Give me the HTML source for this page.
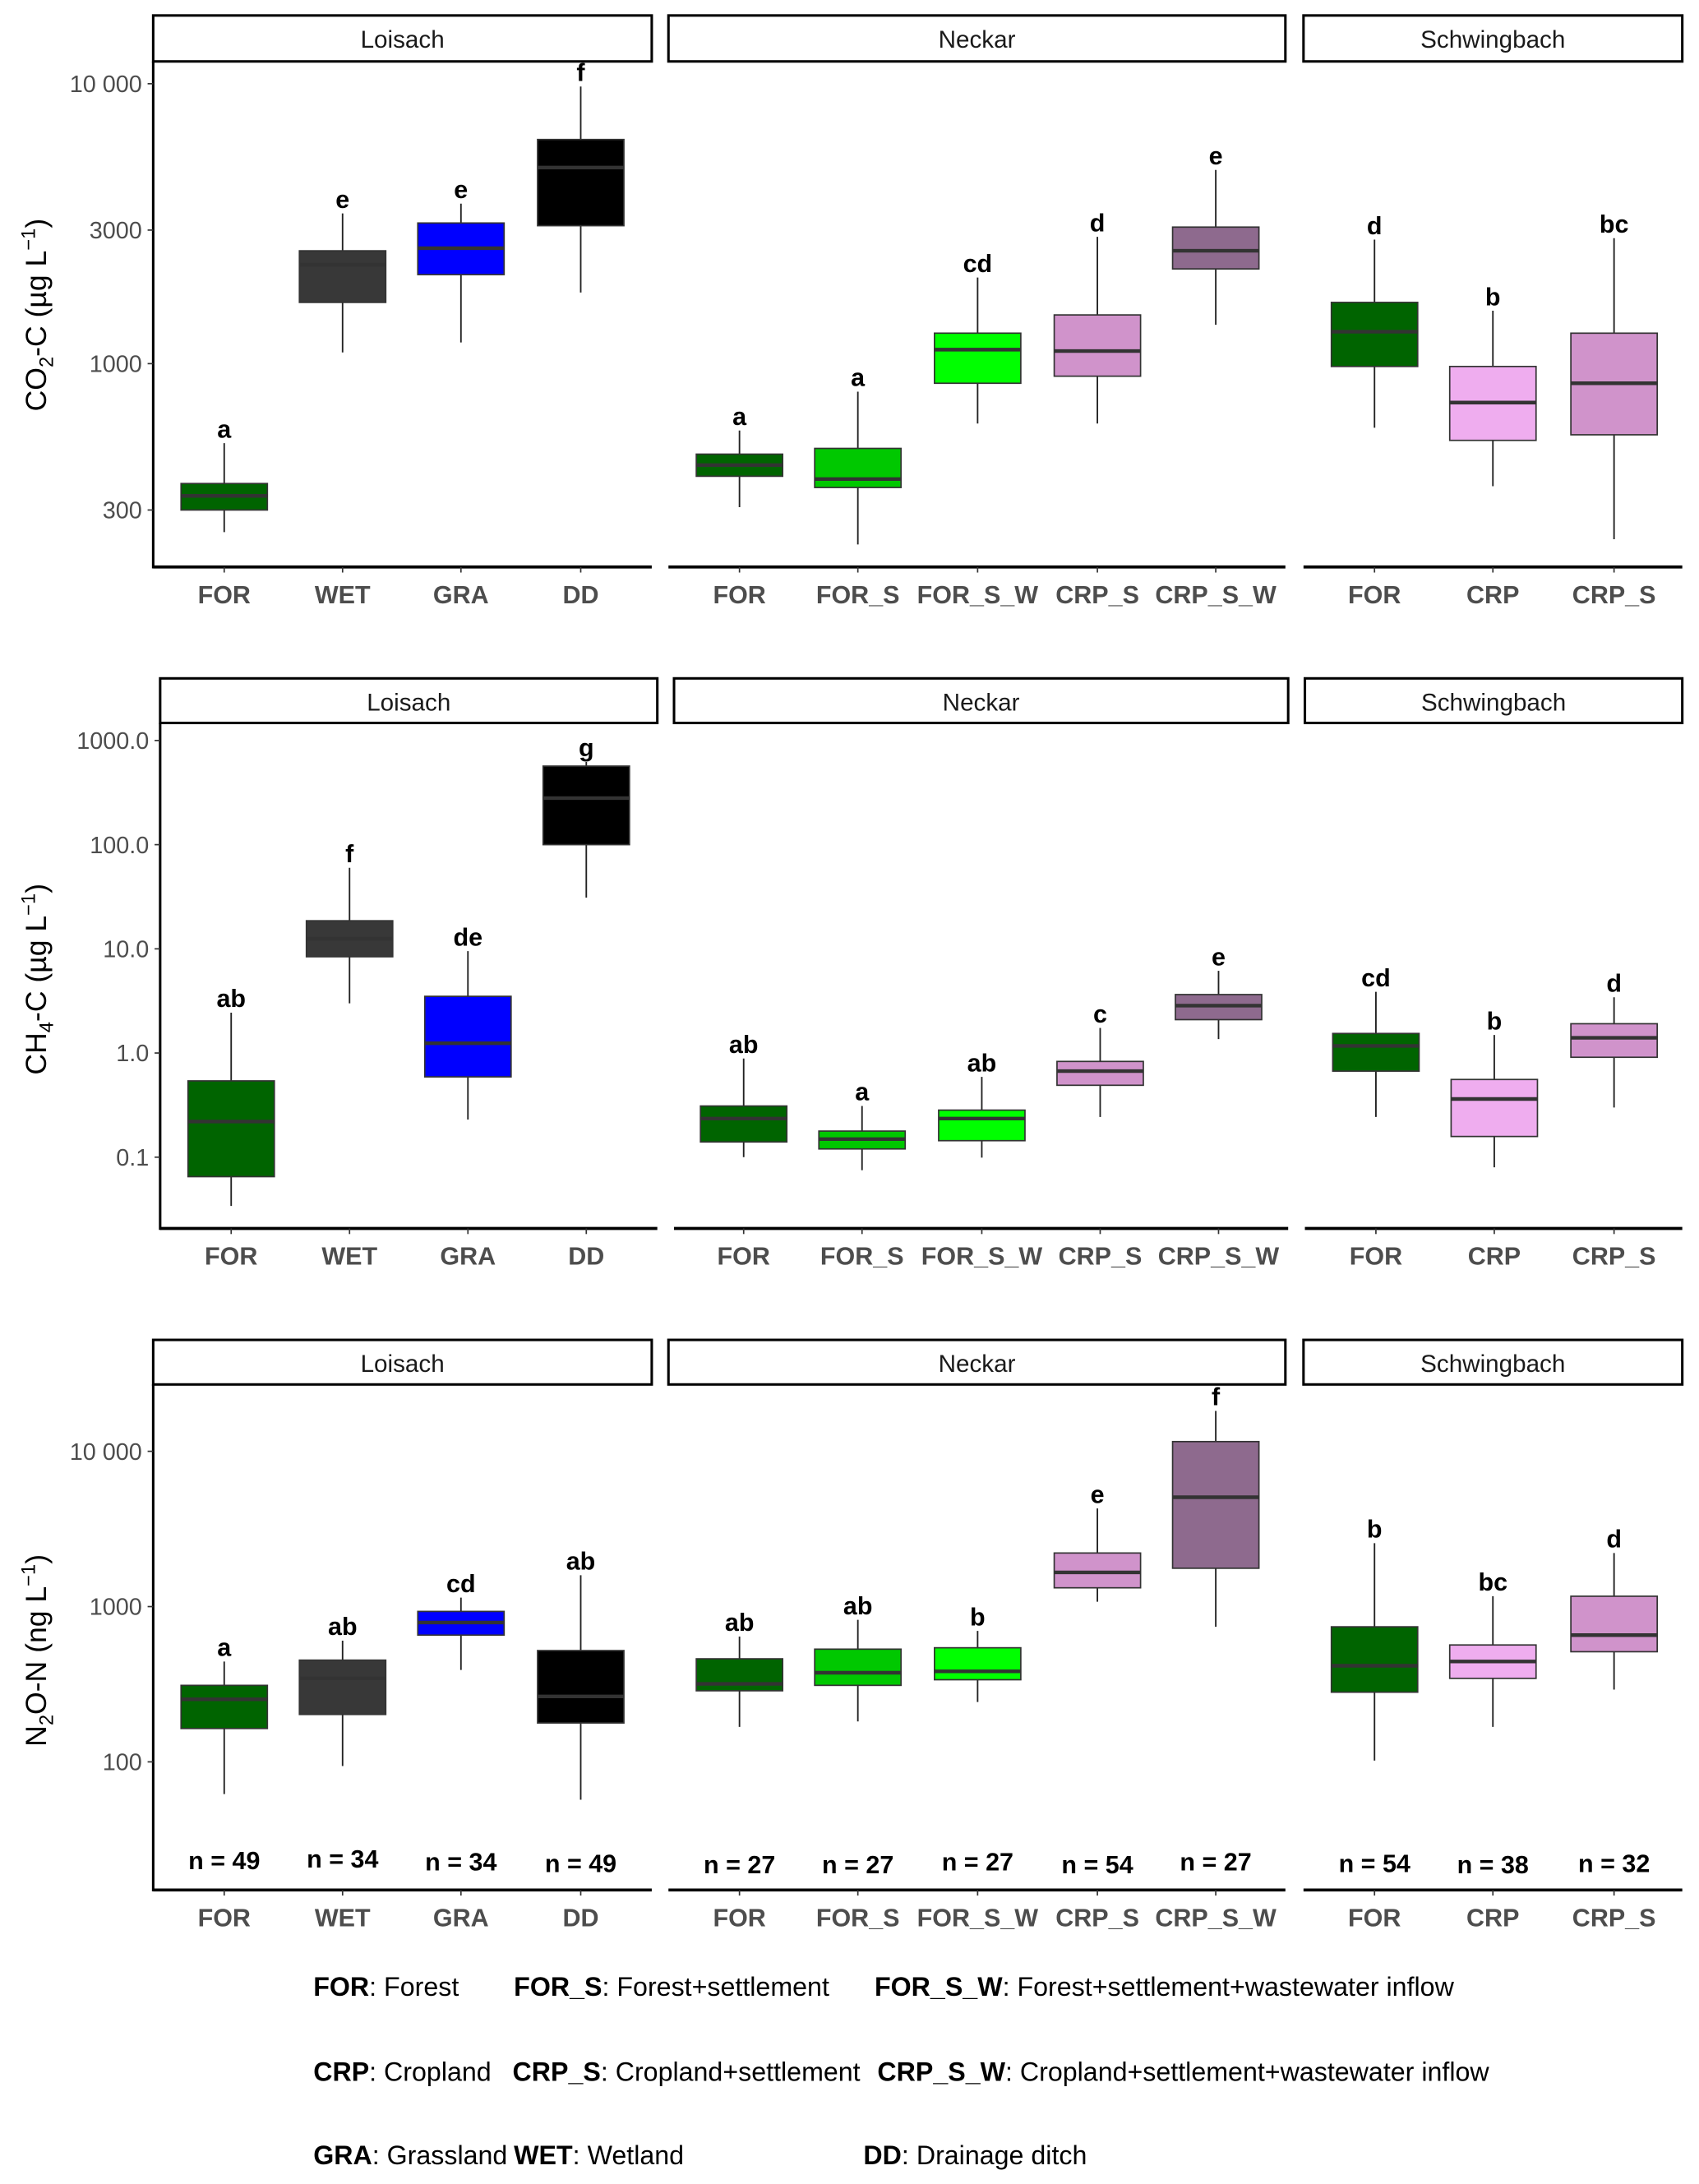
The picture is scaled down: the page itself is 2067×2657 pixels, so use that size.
<!DOCTYPE html>
<html><head><meta charset="utf-8"><style>
html,body{margin:0;padding:0;background:#fff}
svg{display:block}
text{font-family:"Liberation Sans",sans-serif}
.lt{font-weight:bold;font-size:18px;fill:#000}
.nl{font-weight:bold;font-size:18px;fill:#000}
.tk{font-size:17px;fill:#4d4d4d}
.xl{font-size:18px;fill:#4d4d4d;font-weight:bold}
.st{font-size:17.5px;fill:#1a1a1a}
.lg{font-size:19px;fill:#000}
</style></head><body>
<svg id="fig" width="2067" height="2657" viewBox="0 0 1220 1568" xmlns="http://www.w3.org/2000/svg"></svg>
<script>
// groups (same order for every gas row)
const groupCategories = ["FOR","WET","GRA","DD","FOR","FOR_S","FOR_S_W","CRP_S","CRP_S_W","FOR","CRP","CRP_S"];
const groupPanels = [0,0,0,0,1,1,1,1,1,2,2,2];
const groupColors = ["#006400","#383838","#0000ff","#000000","#006400","#00c800","#00ff00","#d093cb","#8e6a8e","#006400","#efadef","#d093cb"];
const panelNames = ["Loisach","Neckar","Schwingbach"];
const sampleSizes = ["n = 49","n = 34","n = 34","n = 49","n = 27","n = 27","n = 27","n = 54","n = 27","n = 54","n = 38","n = 32"];

// CO2-C (µg/L)
const co2Low = [250,1097,1190,1795,307,226,611,611,1377,590,365,236];
const co2Q1 = [300,1655,2080,3110,396,361,851,902,2180,977,532,557];
const co2Median = [337,2255,2585,5020,434,387,1122,1109,2531,1300,726,851];
const co2Q3 = [373,2530,3180,6320,475,498,1285,1493,3075,1655,977,1285];
const co2High = [520,3440,3730,9770,577,794,2030,2837,4920,2773,1545,2806];
const co2Letters = ["a","e","e","f","a","a","cd","d","e","d","b","bc"];
const co2Ticks = [300,1000,3000,10000];
const co2TickLabels = ["300","1000","3000","10 000"];

// CH4-C (µg/L)
const ch4Low = [0.034,3.0,0.23,31,0.1,0.075,0.099,0.243,1.36,0.243,0.08,0.30];
const ch4Q1 = [0.065,8.4,0.59,100,0.14,0.12,0.144,0.49,2.09,0.67,0.158,0.91];
const ch4Median = [0.22,12.5,1.24,280,0.235,0.149,0.235,0.67,2.85,1.17,0.362,1.40];
const ch4Q3 = [0.54,18.6,3.5,568,0.31,0.178,0.283,0.83,3.64,1.54,0.557,1.91];
const ch4High = [2.44,60,9.5,622,0.885,0.31,0.59,1.74,6.15,3.87,1.49,3.43];
const ch4Letters = ["ab","f","de","g","ab","a","ab","c","e","cd","b","d"];
const ch4Ticks = [0.1,1,10,100,1000];
const ch4TickLabels = ["0.1","1.0","10.0","100.0","1000.0"];

// N2O-N (ng/L)
const n2oLow = [62,94,391,57,168,182,243,1075,741,102,168,292];
const n2oQ1 = [164,202,655,178,287,311,338,1321,1766,281,345,512];
const n2oMedian = [253,345,789,264,318,375,383,1660,5060,416,443,655];
const n2oQ3 = [311,452,931,521,461,532,543,2213,11550,741,566,1166];
const n2oHigh = [443,603,1143,1592,641,822,697,4286,18200,2560,1166,2213];
const n2oLetters = ["a","ab","cd","ab","ab","ab","b","e","f","b","bc","d"];
const n2oTicks = [100,1000,10000];
const n2oTickLabels = ["100","1000","10 000"];

const NS="http://www.w3.org/2000/svg";
const svg=document.getElementById('fig');
function mk(tag,attrs,parent){const e=document.createElementNS(NS,tag);for(const k in attrs)e.setAttribute(k,attrs[k]);(parent||svg).appendChild(e);return e;}

const rows=[
 {name:"co2",top:44,bottom:407,refV:10000,refY:60,dec:201,stripTop:11,panelX:[[110,468],[480,923],[936,1208]],centers:[161,246,331,417,531,616,702,788,873,987,1072,1159],
  lo:co2Low,q1:co2Q1,md:co2Median,q3:co2Q3,hi:co2High,let:co2Letters,ticks:co2Ticks,tl:co2TickLabels},
 {name:"ch4",top:519,bottom:882,refV:1,refY:756,dec:74.8,stripTop:487,panelX:[[115,472],[484,925],[937,1208]],centers:[166,251,336,421,534,619,705,790,875,988,1073,1159],
  lo:ch4Low,q1:ch4Q1,md:ch4Median,q3:ch4Q3,hi:ch4High,let:ch4Letters,ticks:ch4Ticks,tl:ch4TickLabels},
 {name:"n2o",top:994,bottom:1357,refV:10000,refY:1042,dec:111.5,stripTop:962,panelX:[[110,468],[480,923],[936,1208]],centers:[161,246,331,417,531,616,702,788,873,987,1072,1159],
  lo:n2oLow,q1:n2oQ1,md:n2oMedian,q3:n2oQ3,hi:n2oHigh,let:n2oLetters,ticks:n2oTicks,tl:n2oTickLabels}
];
const halfW=31;
const nY=[1342,1341,1343,1344,1345,1345,1343,1345,1343,1344,1345,1344];

rows.forEach((r,ri)=>{
  const y=v=>r.refY-(Math.log10(v)-Math.log10(r.refV))*r.dec;
  const g=mk('g',{});
  
  
  r.panelX.forEach((p,pi)=>{
    const s=mk('rect',{x:p[0],y:r.stripTop,width:p[1]-p[0],height:r.top-r.stripTop,fill:'#fff',stroke:'#000','stroke-width':1.8},g);
    
    
    const st=mk('text',{x:(p[0]+p[1])/2,y:r.stripTop+23,'text-anchor':'middle',class:'st'},g);
    st.textContent=panelNames[pi];
    
    
    const ax=mk('line',{x1:p[0],x2:p[1],y1:r.bottom,y2:r.bottom,stroke:'#000','stroke-width':2.2},g);
    
    
  });
  const x0=r.panelX[0][0];
  const ya=mk('line',{x1:x0,x2:x0,y1:r.top,y2:r.bottom+1,stroke:'#000','stroke-width':1.8},g);
  
  
  r.ticks.forEach((t,i)=>{
    const yy=y(t);
    mk('line',{x1:x0-4,x2:x0,y1:yy,y2:yy,stroke:'#333','stroke-width':1},g);
    const tt=mk('text',{x:x0-8,y:yy+6,'text-anchor':'end',class:'tk'},g);
    tt.textContent=r.tl[i];
    
    
  });
  groupCategories.forEach((c,i)=>{
    const cx=r.centers[i];
    const bg=mk('g',{},g);
    
    
    mk('line',{x1:cx,x2:cx,y1:y(r.hi[i]),y2:y(r.lo[i]),stroke:'#222','stroke-width':1.1},bg);
    mk('rect',{x:cx-halfW,y:y(r.q3[i]),width:2*halfW,height:y(r.q1[i])-y(r.q3[i]),fill:groupColors[i],stroke:'#333','stroke-width':1},bg);
    mk('line',{x1:cx-halfW,x2:cx+halfW,y1:y(r.md[i]),y2:y(r.md[i]),stroke:'#333','stroke-width':2.6},bg);
    const lt=mk('text',{x:cx,y:y(r.hi[i])-4,'text-anchor':'middle',class:'lt'},g);
    lt.textContent=r.let[i];
    
    
    mk('line',{x1:cx,x2:cx,y1:r.bottom,y2:r.bottom+4,stroke:'#333','stroke-width':1},g);
    const xl=mk('text',{x:cx,y:r.bottom+26,'text-anchor':'middle',class:'xl'},g);
    xl.textContent=c;
    
    
    if(ri===2){
      const nt=mk('text',{x:cx,y:nY[i],'text-anchor':'middle',class:'nl'},g);
      nt.textContent=sampleSizes[i];
      
      
    }
  });
});

const titles=[["CO","2","-C (µg L","−1",")",226],["CH","4","-C (µg L","−1",")",703],["N","2","O-N (ng L","−1",")",1185]];
titles.forEach(t=>{
  const tx=mk('text',{x:0,y:0,transform:`translate(33,${t[5]}) rotate(-90)`,'text-anchor':'middle','font-size':21,fill:'#000'});
  
  
  tx.innerHTML=`${t[0]}<tspan font-size="14" dy="5">${t[1]}</tspan><tspan dy="-5">${t[2]}</tspan><tspan font-size="14" dy="-8">${t[3]}</tspan><tspan dy="8">${t[4]}</tspan>`;
});

const legendRows=[
 [[225,"FOR",": Forest"],[369,"FOR_S",": Forest+settlement"],[628,"FOR_S_W",": Forest+settlement+wastewater inflow"]],
 [[225,"CRP",": Cropland"],[368,"CRP_S",": Cropland+settlement"],[630,"CRP_S_W",": Cropland+settlement+wastewater inflow"]],
 [[225,"GRA",": Grassland"],[369,"WET",": Wetland"],[620,"DD",": Drainage ditch"]]
];
const legendY=[1433,1494,1554];
legendRows.forEach((row,ri)=>row.forEach(e=>{
  const t=mk('text',{x:e[0],y:legendY[ri],class:'lg'});
  
  
  t.innerHTML=`<tspan font-weight="bold">${e[1]}</tspan>${e[2]}`;
}));
</script>
</body></html>
